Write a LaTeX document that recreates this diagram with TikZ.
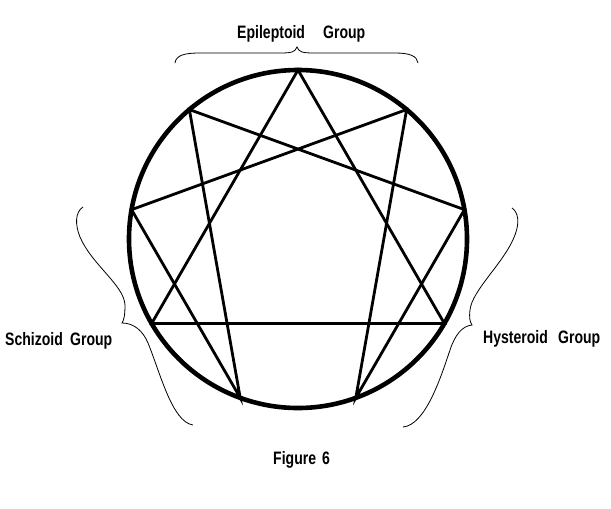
\documentclass[tikz,border=0pt]{standalone}
\usepackage{fontspec}
\usetikzlibrary{calc}
\newfontfamily\labfont[FakeStretch=0.78]{Liberation Sans}
\begin{document}
\begin{tikzpicture}[x=1pt,y=-1pt,
  lab/.style={inner sep=0pt,anchor=base west,font=\labfont\bfseries\fontsize{18}{21}\selectfont},
  ring/.style={line width=4.6pt},
  chord/.style={line width=2.8pt,line join=miter},
  brace/.style={line width=0.8pt}]
\useasboundingbox (0,0) rectangle (611,509);
\coordinate (c) at (298,239);
\foreach \k in {0,...,8} {
  \coordinate (p\k) at ($(c)+({169*sin(\k*40)},{-169*cos(\k*40)})$);
}
% triangle 9-3-6
\draw[chord] (p0) -- (p3) -- (p6) -- cycle;
% hexad 1-4-2-8-5-7-1
\draw[chord] (p1) -- (p4) -- (p2) -- (p8) -- (p5) -- (p7) -- cycle;
\draw[ring] (c) circle (169);
% braces
\draw[brace] (175,63) .. controls (176,55) and (185,53) .. (200,53) -- (280,53)
  .. controls (292,53) and (295,52) .. (297,47)
  .. controls (299,52) and (302,53) .. (314,53) -- (395,53)
  .. controls (410,53) and (417,56) .. (418,63);
\draw[brace] (83,207) .. controls (75,212) and (75,225) .. (80,237)
  .. controls (92,265) and (124,285) .. (125,305)
  .. controls (125,315) and (124,320) .. (122,323)
  .. controls (134,323) and (143,331) .. (148,343)
  .. controls (160,372) and (172,422) .. (193,425);
\draw[brace] (512,208) .. controls (518,212) and (520,222) .. (515,235)
  .. controls (505,262) and (472,290) .. (470,310)
  .. controls (469,318) and (470,322) .. (472,325)
  .. controls (462,326) and (455,335) .. (450,350)
  .. controls (440,380) and (425,425) .. (403,427);
% labels
\node[lab] (epi) at (237,38) {Epileptoid};
\node[lab] (epig) at (323,38) {Group};
\node[lab] (sch) at (5,345) {Schizoid};
\node[lab] (schg) at (70,345) {Group};
\node[lab] (hys) at (483,343) {Hysteroid};
\node[lab] (hysg) at (558,343) {Group};
\node[lab] (fig) at (273,464) {Figure};
\node[lab] (fign) at (322,464) {6};
\end{tikzpicture}
\end{document}
